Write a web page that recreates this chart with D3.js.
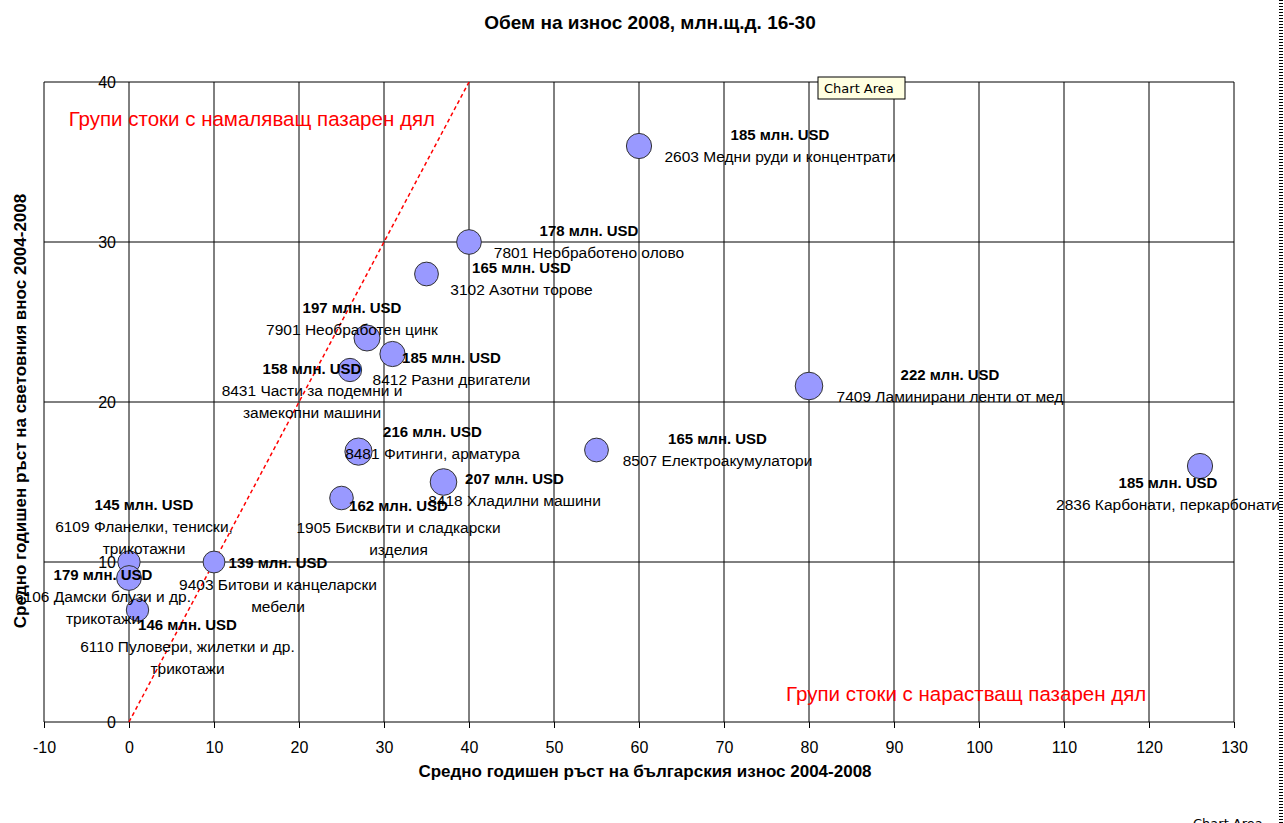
<!DOCTYPE html>
<html>
<head>
<meta charset="utf-8">
<style>
  body { margin: 0; background: #fff; }
  svg { display: block; font-family: "Liberation Sans", Arial, sans-serif; }
</style>
</head>
<body>
<svg width="1284" height="823"></svg>
<script src="https://cdn.jsdelivr.net/npm/d3@7"></script>
<script>

// ръст на българския износ (x), ръст на световния внос (y), обем (млн. USD)
var growthBG    = [60, 40, 35, 28, 31, 26, 80, 27, 55, 126, 37, 25, 0, 10, 0, 1];
var growthWorld = [36, 30, 28, 24, 23, 22, 21, 16.9, 17, 16, 15, 14, 10, 10, 9, 7];
var exportValue = [185, 178, 165, 197, 185, 158, 222, 216, 165, 185, 207, 162, 145, 139, 179, 146];
var productNames = [
  ["2603 Медни руди и концентрати"],
  ["7801 Необработено олово"],
  ["3102 Азотни торове"],
  ["7901 Необработен цинк"],
  ["8412 Разни двигатели"],
  ["8431 Части за подемни и", "замекопни машини"],
  ["7409 Ламинирани ленти от мед"],
  ["8481 Фитинги, арматура"],
  ["8507 Електроакумулатори"],
  ["2836 Карбонати, перкарбонати"],
  ["8418 Хладилни машини"],
  ["1905 Бисквити и сладкарски", "изделия"],
  ["6109 Фланелки, тениски,", "трикотажни"],
  ["9403 Битови и канцеларски", "мебели"],
  ["6106 Дамски блузи и др.", "трикотажи"],
  ["6110 Пуловери, жилетки и др.", "трикотажи"]
];
// where excel's labels were dragged to (px from the bubble)
var labelShift = [[141,-11],[120,-11],[95,-6],[-15,-30],[59,4],[-38,-1],[141,-11],[74,-20],
                  [121,-11],[-32,17],[71,-3],[57,8],[15,-57],[64,1],[-26,-3],[50,15]];
var xTicks = d3.range(-10, 131, 10);
var yTicks = [0, 10, 20, 30, 40];

var svg = d3.select("svg");

var x = d3.scaleLinear().domain([-10, 130]).range([44, 1234]);
var y = d3.scaleLinear().domain([0, 40]).range([722, 82]);
var r = d3.scaleSqrt().domain([0, 222]).range([0, 13.8]);

var points = growthBG.map((d, i) => ({
  x: d, y: growthWorld[i], v: exportValue[i], names: productNames[i], shift: labelShift[i]
}));

// grid
svg.append("g")
  .selectAll("line.v")
  .data(xTicks)
  .enter().append("line")
    .attr("x1", d => x(d)).attr("x2", d => x(d))
    .attr("y1", y(40)).attr("y2", y(0))
    .style("stroke", "#000");

svg.append("g")
  .selectAll("line.h")
  .data(yTicks)
  .enter().append("line")
    .attr("x1", x(-10)).attr("x2", x(130))
    .attr("y1", d => y(d)).attr("y2", d => y(d))
    .style("stroke", "#000");

// x axis
var xAxis = svg.append("g")
  .attr("transform", "translate(0," + y(0) + ")")
  .call(d3.axisBottom(x).tickValues(xTicks).tickFormat(d => String(d))
    .tickSize(6).tickPadding(14).tickSizeOuter(0));
xAxis.select(".domain").remove();
xAxis.selectAll("text").style("font-size", "16px").style("font-family", "Liberation Sans, Arial").style("fill", "#000");

// y axis labels sit against x = 0
var yAxis = svg.append("g")
  .attr("transform", "translate(" + x(0) + ",0)")
  .call(d3.axisLeft(y).tickValues(yTicks).tickSize(0).tickPadding(13));
yAxis.select(".domain").remove();
yAxis.selectAll("text").style("font-size", "16px").style("font-family", "Liberation Sans, Arial").style("fill", "#000");

// diagonal y = x
svg.append("line")
  .attr("x1", x(0)).attr("y1", y(0))
  .attr("x2", x(40)).attr("y2", y(40))
  .style("stroke", "#ff0000")
  .style("stroke-width", 1.5)
  .style("stroke-dasharray", "4,3");

// bubbles
svg.append("g")
  .selectAll("circle")
  .data(points)
  .enter().append("circle")
    .attr("cx", d => x(d.x))
    .attr("cy", d => y(d.y))
    .attr("r", d => r(d.v))
    .style("fill", "#9999ff")
    .style("stroke", "#333")
    .style("stroke-width", 1);

// labels
var lab = svg.append("g")
  .selectAll("g")
  .data(points)
  .enter().append("g")
    .attr("transform", d => "translate(" + (x(d.x) + d.shift[0]) + "," + (y(d.y) + d.shift[1]) + ")");

lab.append("text")
  .attr("text-anchor", "middle")
  .attr("dy", "0.35em")
  .style("font-size", "15px")
  .style("font-weight", "bold")
  .text(d => d.v + " млн. USD");

lab.each(function(d) {
  d3.select(this).selectAll("text.nm")
    .data(d.names)
    .enter().append("text")
      .attr("class", "nm")
      .attr("text-anchor", "middle")
      .attr("y", (s, j) => 22 * (j + 1))
      .attr("dy", "0.35em")
      .style("font-size", "15.5px")
      .text(s => s);
});

// red notes
svg.append("text")
  .attr("x", x(-7.1)).attr("y", y(37.7))
  .attr("dy", "0.35em")
  .style("font-size", "20.5px").style("fill", "#ff0000")
  .text("Групи стоки с намаляващ пазарен дял");

svg.append("text")
  .attr("x", x(77.3)).attr("y", y(1.75))
  .attr("dy", "0.35em")
  .style("font-size", "20.5px").style("fill", "#ff0000")
  .text("Групи стоки с нарастващ пазарен дял");

// titles
svg.append("text")
  .attr("x", 650).attr("y", 22)
  .attr("dy", "0.35em")
  .attr("text-anchor", "middle")
  .style("font-size", "19px").style("font-weight", "bold")
  .text("Обем на износ 2008, млн.щ.д. 16-30");

svg.append("text")
  .attr("x", 645).attr("y", 771)
  .attr("dy", "0.35em")
  .attr("text-anchor", "middle")
  .style("font-size", "17px").style("font-weight", "bold")
  .text("Средно годишен ръст на българския износ 2004-2008");

svg.append("text")
  .attr("transform", "translate(20,411) rotate(-90)")
  .attr("dy", "0.35em")
  .attr("text-anchor", "middle")
  .style("font-size", "17px").style("font-weight", "bold")
  .text("Средно годишен ръст на световния внос 2004-2008");

// excel tooltip + selection border
var tip = svg.append("g").attr("transform", "translate(818,77)");
tip.append("rect")
  .attr("width", 87).attr("height", 22)
  .style("fill", "#ffffe1").style("stroke", "#000");
tip.append("text")
  .attr("x", 6).attr("y", 11).attr("dy", "0.35em")
  .style("font-family", "DejaVu Sans, sans-serif").style("font-size", "13px")
  .text("Chart Area");

svg.append("text")
  .attr("x", 1193).attr("y", 828)
  .style("font-family", "DejaVu Sans, sans-serif").style("font-size", "13px")
  .text("Chart Area");

svg.append("line")
  .attr("x1", 1281).attr("x2", 1281)
  .attr("y1", 0).attr("y2", 823)
  .style("stroke", "#000").style("stroke-width", 4)
  .style("stroke-dasharray", "1,2");

</script>
</body>
</html>
